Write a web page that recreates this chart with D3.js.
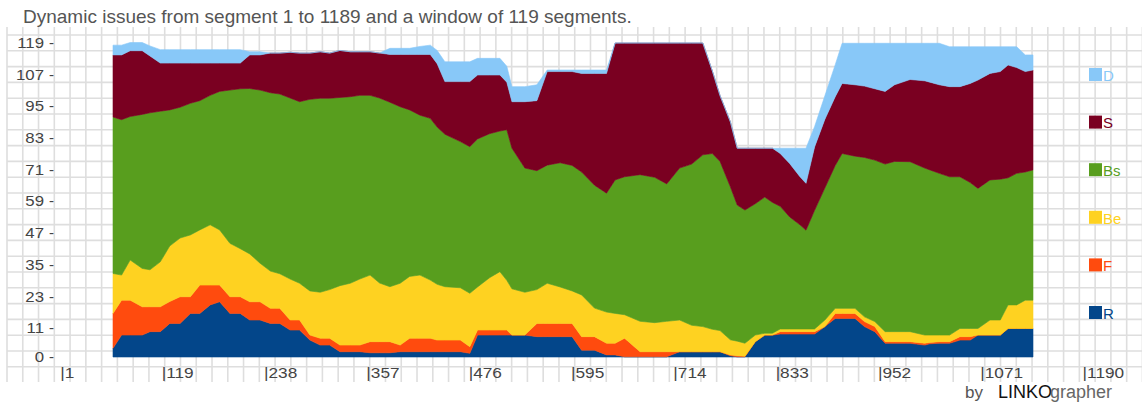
<!DOCTYPE html>
<html><head><meta charset="utf-8">
<script src="https://cdn.jsdelivr.net/npm/d3@7"></script>
<style>body{margin:0;background:#fff}svg{display:block;font-family:"Liberation Sans",Arial,sans-serif}</style>
</head><body><svg id="c" width="1142" height="405"></svg>
<script>
const title = "Dynamic issues from segment 1 to 1189 and a window of 119 segments.";
const seriesNames = ["R","F","Be","Bs","S","D"];
const legendOrder = ["D","S","Bs","Be","F","R"];
const colors = {R:"#03468a",F:"#ff4b0e",Be:"#fed221",Bs:"#589e1e",S:"#7a0021",D:"#88c8f8"};
const yTicks = [0,11,23,35,47,59,71,83,95,107,119];
const xTicks = [1,119,238,357,476,595,714,833,952,1071,1190];
const segments = [60,70,80,94,103,115,126,138,150,161,173,184,196,208,219,231,243,254,266,277,289,301,312,324,336,347,359,370,382,394,405,417,429,437,446,464,475,484,498,510,518,524,539,553,565,580,594,605,620,634,644,655,673,690,704,719,733,746,757,766,778,786,795,807,818,827,836,847,859,866,876,888,900,908,923,934,946,958,969,987,1004,1010,1021,1033,1045,1057,1066,1080,1092,1101,1111,1121,1130];
const R  = [3.3,8.3,8.3,8.3,9.6,9.6,12.7,12.7,16.5,16.5,19.7,20.9,16.5,16.5,14,14,12.7,12.7,10.2,10.2,6.4,4.5,4.5,2,2,2,1.6,1.6,1.6,2,2,2,2,2,2,2,1.4,8.3,8.3,8.3,8.3,8.3,8.3,7.7,7.7,7.7,7.7,2.6,2.6,0.8,0.8,0.1,0.1,0.1,0.1,2,2,2,2,2,0.5,0.1,0.1,5.8,8.3,8.3,8.7,8.7,8.7,8.7,8.7,11.5,14.6,14.6,14.6,11.5,9.6,5.2,5.2,5.2,4.5,5,5.2,5.2,6.4,6.4,8.3,8.3,8.3,10.8,10.8,10.8,10.8];
const F  = [13.2,13.2,13.2,10.7,9.4,9.4,8.3,10.1,6.3,10.7,7.5,6.3,6.3,6.3,6.9,6.9,5.7,5.7,3.8,3.8,1.9,2.6,2.6,2.5,2.5,2.5,4.2,4.2,4.2,2.5,5.1,5.1,5.1,4.4,4.4,4.4,2.5,1.9,1.9,1.9,1.9,0,0,5,5,5,5,5.1,5.1,4.4,4.4,7,1.9,1.9,1.9,0,0,0,0,0,0.3,0.4,0.2,0,0,0,0.9,0.9,0.9,0.9,0.9,0,1.9,1.9,1.9,1.9,1.9,0.6,0.6,0.6,0.7,0.5,0.6,0.6,1.3,1.3,0,0,0,0,0,0,0];
const Be = [15.1,9.5,15.2,14.5,14,17,21,22.2,23.4,20.9,22.8,20.9,20.2,18.2,18.1,14.6,14.1,13.1,15.5,13.9,16.7,17.4,18.4,22.5,23.4,25,25.2,22.2,20.8,23.4,23.4,23.9,22,21.1,20.2,19.8,20.2,16.3,19.8,22.1,18.8,17.5,16.2,12.8,15.2,13.8,12.3,15.8,10.8,11.8,11.3,8.9,11.5,11,11.5,12,10,9.5,8.5,8,5.7,5.5,4.9,2.5,0.7,0.7,1,1,1,1,1,2.5,1.9,1.9,1.9,1.8,1.9,3.8,3.8,3.8,3.1,2.8,2.5,2.5,3.1,3.1,2.5,5.7,5.7,8.9,8.9,10.7,10.7];
const Bs = [59.2,58.8,54.3,58.3,59.4,57,51.5,49.5,49.8,48.9,49,52.4,58,60.5,62.6,65.5,67.5,68,68.5,68.7,72.5,73.4,72.4,71.2,70.6,69.5,68,70,69.8,66.8,63,60.5,61.2,59.5,57.7,55.3,55.5,56,54.5,53.2,57,53.2,47,45,44.7,47,47.5,46.5,46.5,45,50.5,52.2,55.5,55,52,57.5,61,65,66.5,64,57.9,51.5,50.4,49.7,51.5,49.5,46.4,42.4,39.4,37.4,44.9,50,54.1,58.6,57.6,60.3,61.1,63.4,64.4,64.3,63.2,62.5,61.2,59.9,57.4,55.2,53,53,53.3,48.1,49.8,48.5,49.3];
const S  = [23.5,24.5,24.9,24.1,21.5,18.2,17.7,16.7,15.2,14.2,12.2,10.7,10.2,9.7,12.7,13.3,15,15.5,17.3,18.4,17.5,17.6,17.1,17.8,17,16.5,16.5,17,18.1,19.8,21,23,24.2,24,19.9,22.7,24.6,24.2,22.2,21.2,18,17.6,25.1,26.5,35.4,34.5,35.5,37.3,42.3,45.3,51.8,50.6,49.8,50.8,53.3,47.3,45.8,42.3,31.3,24.9,24.6,21.5,23.4,21,18.5,20.5,20,20.2,18.2,17.7,24,26,26,26.5,27,27,27,27.5,29,31.1,33,33.2,33.5,34.1,34.1,37.5,41,40.3,40.7,42.7,40,38,37.8];
const D  = [3.7,3.7,3.1,3.1,3.8,5.1,5.1,5.1,5.1,5.1,5.1,5.1,5.1,5.1,1.2,1.2,0,0,0,0,0,0,0,0,0,0,0,0,2.3,2.3,2.3,3,3.5,5,7.5,7.5,7.5,6.3,6.3,6.3,6,5.7,5.7,6,0.6,0.6,0.6,1.3,1.3,1.3,0,0,0,0,0,0,0,0,0,0,0,0,0,0,0,0,2,5.8,10.8,13.3,7.7,8.9,12.1,15.2,15.7,16.2,17.2,18.2,15.7,13.7,14.2,14.7,15.7,15.1,15.1,13.9,12.6,10.1,9.4,6.9,7.9,6.3,5.7];

const valuesBy = {R,F,Be,Bs,S,D};
const rows = segments.map((s,i)=>{const o={seg:s};seriesNames.forEach(n=>o[n]=valuesBy[n][i]);return o;});

const svg = d3.select("#c");
const W=1142,H=405;

// background grid
const gx0=7, gstepX=15.77, gy0=35, gstepY=15.8;
const grid = svg.append("g").attr("stroke","#dedede").attr("stroke-width",1.6);
d3.range(0,73).forEach(k=>grid.append("line").attr("x1",gx0+k*gstepX).attr("x2",gx0+k*gstepX).attr("y1",27).attr("y2",382));
d3.range(0,22).forEach(k=>grid.append("line").attr("x1",gx0).attr("x2",W).attr("y1",gy0+k*gstepY).attr("y2",gy0+k*gstepY));

const x = d3.scaleLinear().domain([60,1130]).range([113,1033]);
const y = d3.scaleLinear().domain([0,119]).range([357,42.5]);

const stack = d3.stack().keys(seriesNames);
const layers = stack(rows);
const area = d3.area().x(d=>x(d.data.seg)).y0(d=>y(d[0])).y1(d=>y(d[1])).curve(d3.curveLinear);
svg.append("g").selectAll("path").data(layers).join("path")
  .attr("d",area).attr("fill",d=>colors[d.key]).attr("stroke",d=>colors[d.key]).attr("stroke-width",0.6);

// y labels (slightly wide lettering as in the reference)
const yl = svg.append("g").attr("font-size",15).attr("fill","#444");
yTicks.forEach(t=>{
  yl.append("text").attr("text-anchor","end").attr("transform",`translate(44,${y(t)}) scale(1.12,1)`).attr("dy","0.36em").text(t);
  yl.append("text").attr("x",49).attr("y",y(t)).attr("dy","0.36em").text("-");
});

// x labels
const xl = svg.append("g").attr("font-size",15).attr("fill","#444");
xTicks.forEach(t=>xl.append("text").attr("transform",`translate(${x(t)-2},378) scale(1.15,1)`).text("|"+t));

// title
svg.append("text").attr("x",23).attr("y",23).attr("font-size",19).attr("fill","#555").text(title);

// legend
const lg = svg.append("g");
legendOrder.forEach((n,i)=>{
  const cy = 75 + i*47.6;
  lg.append("rect").attr("x",1089).attr("y",cy-7).attr("width",13).attr("height",13).attr("fill",colors[n]);
  lg.append("text").attr("x",1103).attr("y",cy).attr("dy","0.38em").attr("font-size",15).attr("fill",colors[n]).text(n);
});

// credit
svg.append("text").attr("x",965).attr("y",398).attr("font-size",17).attr("fill","#555").text("by");
svg.append("text").attr("x",998).attr("y",398).attr("font-size",18).attr("fill","#111").text("LINKO");
svg.append("text").attr("x",1050).attr("y",398).attr("font-size",18).attr("fill","#666").text("grapher");
</script></body></html>
